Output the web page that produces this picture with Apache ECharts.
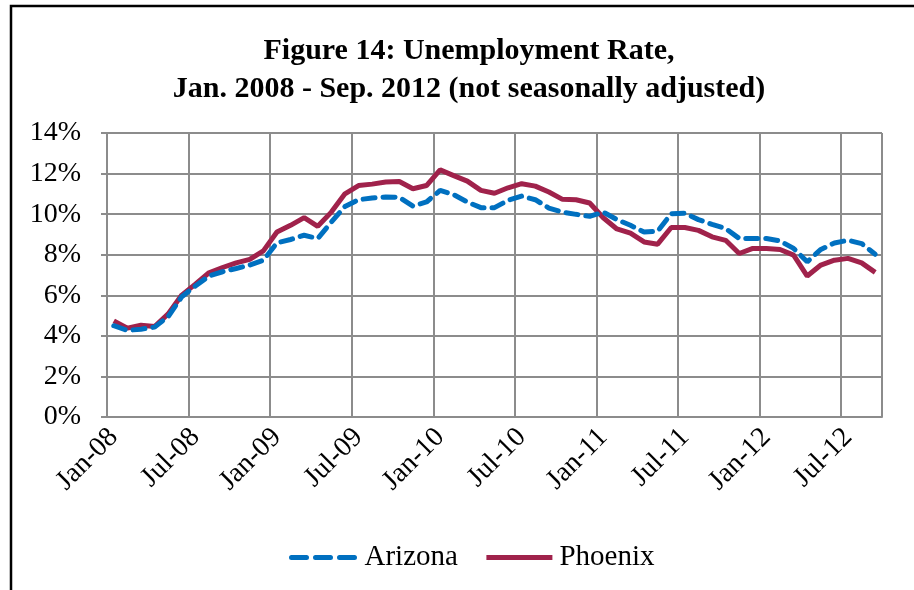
<!DOCTYPE html>
<html>
<head>
<meta charset="utf-8">
<script src="https://cdn.jsdelivr.net/npm/echarts@6/dist/echarts.min.js"></script>
<style>
  html, body { margin: 0; padding: 0; background: #fff; }
  #chart { width: 914px; height: 590px; }
</style>
</head>
<body>
<div id="chart"></div>
<script>
// các tháng từ Jan-08 đến Sep-12
const months = [
    'Jan-08', 'Feb-08', 'Mar-08', 'Apr-08', 'May-08', 'Jun-08', 'Jul-08', 'Aug-08', 'Sep-08', 'Oct-08', 'Nov-08', 'Dec-08',
    'Jan-09', 'Feb-09', 'Mar-09', 'Apr-09', 'May-09', 'Jun-09', 'Jul-09', 'Aug-09', 'Sep-09', 'Oct-09', 'Nov-09', 'Dec-09',
    'Jan-10', 'Feb-10', 'Mar-10', 'Apr-10', 'May-10', 'Jun-10', 'Jul-10', 'Aug-10', 'Sep-10', 'Oct-10', 'Nov-10', 'Dec-10',
    'Jan-11', 'Feb-11', 'Mar-11', 'Apr-11', 'May-11', 'Jun-11', 'Jul-11', 'Aug-11', 'Sep-11', 'Oct-11', 'Nov-11', 'Dec-11',
    'Jan-12', 'Feb-12', 'Mar-12', 'Apr-12', 'May-12', 'Jun-12', 'Jul-12', 'Aug-12', 'Sep-12'
];

// tỷ lệ thất nghiệp (%)
const arizona = [
    4.5, 4.27, 4.33, 4.43, 4.95, 5.93, 6.46, 6.95, 7.16, 7.32, 7.49, 7.73,
    8.58, 8.75, 8.96, 8.8, 9.61, 10.38, 10.71, 10.8, 10.84, 10.83, 10.4, 10.6,
    11.17, 10.96, 10.6, 10.32, 10.32, 10.68, 10.89, 10.71, 10.3, 10.1, 9.99, 9.89,
    10.1, 9.73, 9.45, 9.12, 9.16, 10.02, 10.05, 9.73, 9.5, 9.29, 8.8, 8.8,
    8.8, 8.68, 8.31, 7.65, 8.26, 8.58, 8.71, 8.55, 8.02
];

const phoenix = [
    4.74, 4.38, 4.52, 4.46, 5.08, 6.01, 6.55, 7.11, 7.37, 7.6, 7.77, 8.19,
    9.12, 9.45, 9.83, 9.4, 10.1, 11.0, 11.41, 11.48, 11.58, 11.61, 11.25, 11.41,
    12.18, 11.9, 11.63, 11.17, 11.03, 11.3, 11.5, 11.38, 11.09, 10.73, 10.71, 10.55,
    9.82, 9.27, 9.06, 8.63, 8.52, 9.34, 9.34, 9.2, 8.88, 8.71, 8.06, 8.31,
    8.31, 8.26, 7.98, 6.95, 7.49, 7.73, 7.82, 7.6, 7.13
];

const yTicks = [0, 2, 4, 6, 8, 10, 12, 14];

const gridColor = '#8c8c8c';
const serif = '"Liberation Serif", "DejaVu Serif", serif';

var chartDom = document.getElementById('chart');
var myChart = echarts.init(chartDom);

var option = {
    animation: false,
    backgroundColor: '#fff',
    title: {
        text: 'Figure 14: Unemployment Rate,\nJan. 2008 - Sep. 2012 (not seasonally adjusted)',
        left: 464,
        top: 27,
        textAlign: 'center',
        textStyle: {
            fontFamily: serif,
            fontSize: 30,
            fontWeight: 'bold',
            color: '#000',
            lineHeight: 38
        }
    },
    legend: {
        top: 538,
        left: 284,
        itemWidth: 66,
        itemHeight: 14,
        itemGap: 26,
        itemStyle: { opacity: 0 },
        lineStyle: { width: 5 },
        textStyle: {
            fontFamily: serif,
            fontSize: 29,
            color: '#000',
            padding: [0, 0, 0, 2]
        },
        data: [
            { name: 'Arizona', lineStyle: { type: [15, 9], cap: 'round' } },
            { name: 'Phoenix' }
        ]
    },
    grid: {
        left: 107,
        right: 32,
        top: 133,
        bottom: 173,
        containLabel: false
    },
    xAxis: {
        type: 'category',
        data: months,
        boundaryGap: true,
        axisLine: { lineStyle: { color: gridColor, width: 2 } },
        axisTick: {
            interval: 5,
            length: 6,
            alignWithLabel: false,
            lineStyle: { color: gridColor, width: 2 }
        },
        axisLabel: {
            interval: 5,
            rotate: 45,
            margin: 16,
            fontFamily: serif,
            fontSize: 28,
            color: '#000'
        },
        splitLine: {
            show: true,
            interval: 5,
            lineStyle: { color: gridColor, width: 2 }
        }
    },
    yAxis: {
        type: 'value',
        min: yTicks[0],
        max: yTicks[yTicks.length - 1],
        interval: 2,
        axisLine: { show: true, lineStyle: { color: gridColor, width: 2 } },
        axisTick: { show: true, length: 6, lineStyle: { color: gridColor, width: 2 } },
        axisLabel: {
            formatter: '{value}%',
            margin: 26,
            fontFamily: serif,
            fontSize: 28,
            color: '#000'
        },
        splitLine: { lineStyle: { color: gridColor, width: 2 } }
    },
    series: [
        {
            name: 'Arizona',
            type: 'line',
            data: arizona,
            symbol: 'none',
            color: '#0070C0',
            lineStyle: { color: '#0070C0', width: 5, type: [12, 8], cap: 'round' },
            z: 3
        },
        {
            name: 'Phoenix',
            type: 'line',
            data: phoenix,
            symbol: 'none',
            color: '#A0224B',
            lineStyle: { color: '#A0224B', width: 5 },
            z: 2
        }
    ],
    graphic: [
        {
            type: 'rect',
            shape: { x: 11, y: 6, width: 1000, height: 700 },
            style: { fill: 'none', stroke: '#000', lineWidth: 2.5 },
            silent: true
        }
    ]
};

myChart.setOption(option);
</script>
</body>
</html>
